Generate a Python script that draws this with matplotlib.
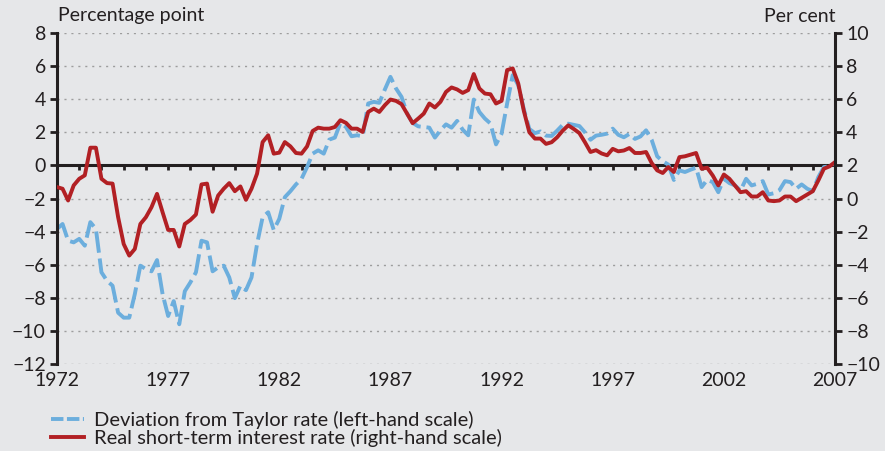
import numpy as np
import matplotlib
matplotlib.use('Agg')
import matplotlib.pyplot as plt

plt.rcParams['font.family'] = ['Lato', 'DejaVu Sans']

# quarterly data, 1972Q1 - 2007Q1
start_year = 1972
taylor_dev = [
    -3.84, -3.54, -4.55, -4.65,
    -4.44, -4.85, -3.43, -3.84,
    -6.46, -6.97, -7.27, -8.90,
    -9.20, -9.20, -7.78, -6.06,
    -6.26, -6.40, -5.72, -7.78,
    -9.10, -8.20, -9.60, -7.60,
    -7.07, -6.46, -4.55, -4.65,
    -6.40, -6.16, -6.06, -6.77,
    -8.02, -7.27, -7.54, -6.77,
    -4.75, -3.13, -2.83, -3.90,
    -3.23, -1.92, -1.56, -1.15,
    -0.81, -0.10, 0.71, 0.91,
    0.71, 1.56, 1.68, 2.57,
    2.32, 1.76, 1.82, 1.76,
    3.74, 3.84, 3.78, 4.59,
    5.35, 4.65, 4.14, 3.13,
    2.57, 2.36, 2.32, 2.28,
    1.68, 2.12, 2.48, 2.28,
    2.69, 2.16, 1.82, 3.98,
    3.23, 2.83, 2.53, 1.27,
    1.92, 3.74, 5.45, 4.85,
    3.40, 2.20, 1.95, 2.05,
    1.80, 1.78, 2.10, 2.45,
    2.52, 2.45, 2.38, 2.00,
    1.55, 1.80, 1.85, 1.92,
    2.22, 1.85, 1.70, 1.90,
    1.60, 1.75, 2.12, 1.55,
    0.55, 0.25, 0.05, -0.88,
    -0.30, -0.40, -0.26, -0.14,
    -1.31, -0.87, -1.01, -1.62,
    -0.81, -1.07, -1.21, -1.52,
    -0.81, -1.21, -1.11, -0.95,
    -1.76, -1.68, -1.50, -0.95,
    -1.01, -1.41, -1.15, -1.41,
    -1.56, -0.71, -0.10, -0.06,
    0.14,
]
real_rate = [
    0.69, 0.59, -0.12, 0.79,
    1.19, 1.40, 3.07, 3.07,
    1.19, 0.93, 0.90, -1.13,
    -2.75, -3.45, -3.05, -1.54,
    -1.13, -0.53, 0.28, -0.83,
    -1.90, -1.90, -2.90, -1.54,
    -1.30, -0.97, 0.85, 0.90,
    -0.80, 0.18, 0.59, 0.93,
    0.44, 0.73, -0.08, 0.59,
    1.50, 3.41, 3.82, 2.71,
    2.77, 3.41, 3.15, 2.75,
    2.71, 3.15, 4.08, 4.28,
    4.22, 4.22, 4.32, 4.73,
    4.57, 4.22, 4.22, 4.02,
    5.23, 5.43, 5.23, 5.64,
    5.98, 5.90, 5.70, 5.13,
    4.55, 4.83, 5.13, 5.74,
    5.50, 5.84, 6.44, 6.71,
    6.59, 6.38, 6.55, 7.52,
    6.65, 6.34, 6.30, 5.74,
    5.90, 7.76, 7.86, 6.95,
    5.30, 4.00, 3.62, 3.62,
    3.30, 3.40, 3.70, 4.10,
    4.42, 4.20, 3.95, 3.40,
    2.81, 2.92, 2.72, 2.61,
    3.00, 2.85, 2.90, 3.05,
    2.75, 2.75, 2.81, 2.15,
    1.70, 1.54, 1.90, 1.60,
    2.50, 2.55, 2.65, 2.75,
    1.80, 1.86, 1.39, 0.79,
    1.45, 1.19, 0.79, 0.38,
    0.44, 0.12, 0.12, 0.38,
    -0.12, -0.16, -0.12, 0.12,
    0.12, -0.16, 0.04, 0.24,
    0.44, 1.09, 1.80, 1.94,
    2.20,
]
year_labels = [1972, 1977, 1982, 1987, 1992, 1997, 2002, 2007]
series_labels = ['Deviation from Taylor rate (left-hand scale)',
                 'Real short-term interest rate (right-hand scale)']

bg = '#e6e7e9'
ink = '#231f20'
blue = '#6caedd'
red = '#b22024'

t = start_year + np.arange(len(taylor_dev)) / 4

fig = plt.figure(figsize=(8.85, 4.51), dpi=100, facecolor=bg)
ax = fig.add_axes([57 / 885, 1 - 364 / 451, 778 / 885, 331 / 451])
ax.set_facecolor(bg)
ax2 = ax.twinx()

ax.set_xlim(1972, 2007)
ax.set_ylim(-12, 8)
ax2.set_ylim(-10, 10)
ax.set_yticks(np.arange(-12, 9, 2))
ax2.set_yticks(np.arange(-10, 11, 2))
ax.set_xticks(year_labels)

ax.yaxis.grid(True, linestyle=(0, (1.5, 3.5)), color='#9d9d9d', lw=1)
ax.set_axisbelow(True)
ax.axhline(0, color=ink, lw=2.2, zorder=2)
ax.vlines(np.arange(1973, 2007), -0.28, 0, color=ink, lw=2, zorder=2)

for a in (ax, ax2):
    for s in ('top', 'bottom'):
        a.spines[s].set_visible(False)
ax.spines['right'].set_visible(False)
ax2.spines['left'].set_visible(False)
ax.spines['left'].set_linewidth(2.2)
ax.spines['left'].set_color(ink)
ax2.spines['right'].set_linewidth(2.2)
ax2.spines['right'].set_color(ink)

ax.tick_params(axis='y', direction='out', length=5, width=2, color=ink,
               labelsize=14, labelcolor=ink, pad=3)
ax2.tick_params(axis='y', direction='out', length=5, width=2, color=ink,
                labelsize=14, labelcolor=ink, pad=3)
ax.tick_params(axis='x', length=0, labelsize=14, labelcolor=ink, pad=6)

l1, = ax.plot(t, taylor_dev, color=blue, lw=2.8, dashes=(5.5, 1.5))
l2, = ax2.plot(t, real_rate, color=red, lw=2.8)

# legend handle for the dashed series, with shorter dashes like the original
h1, = ax.plot([], [], color=blue, lw=2.8, dashes=(3.2, 0.9))

fig.text(58 / 885, 1 - 16 / 451, 'Percentage point', ha='left', va='center',
         fontsize=14, color=ink)
fig.text(836 / 885, 1 - 16 / 451, 'Per cent', ha='right', va='center',
         fontsize=14, color=ink)

fig.legend([h1, l2], series_labels, loc='upper left',
           bbox_to_anchor=(51 / 885, 1 - 411 / 451), frameon=False,
           fontsize=14.5, handlelength=1.65, handletextpad=0.5,
           labelspacing=0.0, borderaxespad=0, borderpad=0,
           labelcolor=ink)

fig.savefig('out.png', dpi=100, facecolor=bg)
